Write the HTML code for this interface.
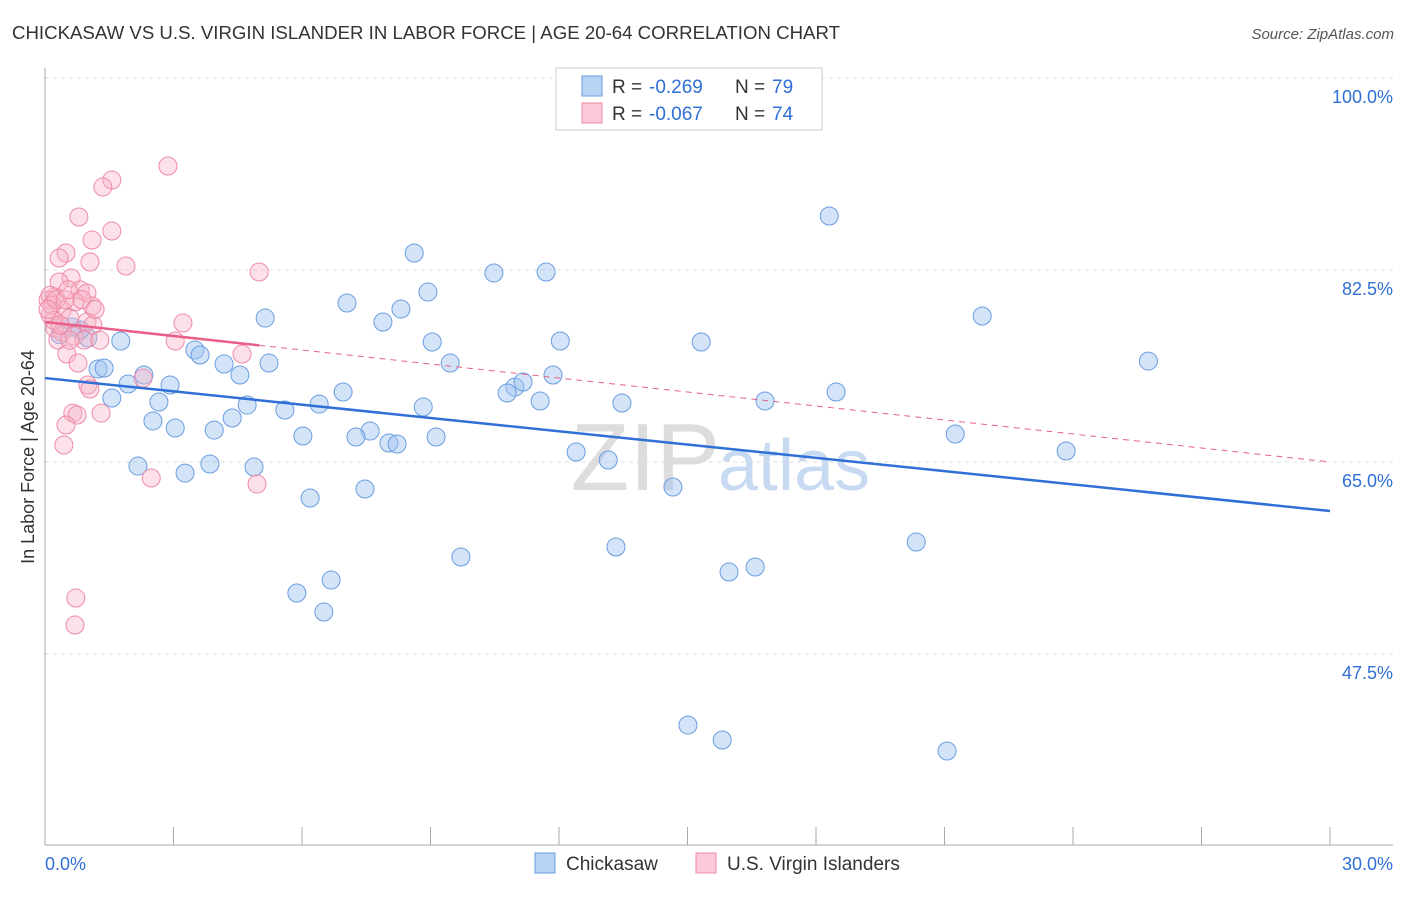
<!DOCTYPE html>
<html><head><meta charset="utf-8"><style>
body{margin:0;background:#fff;font-family:"Liberation Sans",sans-serif}
svg text{font-family:"Liberation Sans",sans-serif}
</style></head><body>
<svg id="chart" width="1406" height="892" xmlns="http://www.w3.org/2000/svg">
<text x="12" y="39" font-size="18" fill="#333" textLength="828" lengthAdjust="spacingAndGlyphs">CHICKASAW VS U.S. VIRGIN ISLANDER IN LABOR FORCE | AGE 20-64 CORRELATION CHART</text>
<text x="1394" y="39" font-size="15" fill="#555" font-style="italic" text-anchor="end">Source: ZipAtlas.com</text>
<text x="720" y="490" font-size="96" fill="#ddd" text-anchor="end" font-family="Liberation Serif">ZIP</text>
<text x="718" y="490" font-size="72" fill="#c8daf2">atlas</text>
<g id="grid"></g>
<g id="pts"></g>
<g id="trends"></g>
<text transform="translate(34,457) rotate(-90)" font-size="18" fill="#333" text-anchor="middle">In Labor Force | Age 20-64</text>
<g>
<rect x="556" y="68" width="266" height="62" fill="#fff" stroke="#ccc"/>
<rect x="582" y="76" width="20" height="20" fill="#b9d3f5" stroke="#6a9de0"/>
<rect x="582" y="103" width="20" height="20" fill="#fbc9d7" stroke="#ee8aa8"/>
<text x="612" y="93" font-size="19" fill="#333">R =</text>
<text x="649" y="93" font-size="19" fill="#2f6fd6">-0.269</text>
<text x="735" y="93" font-size="19" fill="#333">N =</text>
<text x="772" y="93" font-size="19" fill="#2f6fd6">79</text>
<text x="612" y="120" font-size="19" fill="#333">R =</text>
<text x="649" y="120" font-size="19" fill="#2f6fd6">-0.067</text>
<text x="735" y="120" font-size="19" fill="#333">N =</text>
<text x="772" y="120" font-size="19" fill="#2f6fd6">74</text>
</g>
<g>
<rect x="535" y="853" width="20" height="20" fill="#b9d3f5" stroke="#6a9de0"/>
<text x="566" y="870" font-size="19" fill="#333">Chickasaw</text>
<rect x="696" y="853" width="20" height="20" fill="#fbc9d7" stroke="#ee8aa8"/>
<text x="727" y="870" font-size="19" fill="#333">U.S. Virgin Islanders</text>
</g>
</svg>
<script>
const xTicks=[0,30];
const yTicks=[100,82.5,65,47.5];
const blueX=[18.31,8.62,10.48,11.70,8.94,7.05,8.31,5.14,7.89,21.88,1.77,1.00,0.82,9.04,12.03,15.32,3.50,3.62,4.18,5.23,9.46,25.76,1.24,1.38,2.31,4.55,11.86,1.94,2.92,6.96,10.97,11.16,10.79,18.47,1.56,2.66,4.72,6.40,5.60,8.83,11.56,13.47,16.81,4.37,2.52,3.04,3.95,7.59,7.26,6.02,8.03,8.22,9.13,21.25,12.40,13.15,23.84,2.17,3.85,4.88,3.27,14.66,7.47,6.19,9.71,13.33,20.34,15.97,16.58,6.68,5.88,6.51,15.01,15.81,21.06,0.63,0.35];
const blueY=[87.42,84.05,82.23,82.32,80.49,79.49,78.94,78.12,77.76,78.31,76.03,76.30,77.03,75.94,76.03,75.94,75.21,74.75,73.93,74.02,74.02,74.20,73.48,73.57,72.93,72.93,72.93,72.11,72.02,71.38,71.83,72.29,71.29,71.38,70.83,70.47,70.19,70.28,69.74,70.01,70.56,70.38,70.56,69.01,68.74,68.10,67.91,67.82,67.28,67.37,66.73,66.64,67.28,67.55,65.91,65.18,66.00,64.63,64.82,64.54,63.99,62.72,62.54,61.72,56.34,57.25,57.71,54.97,55.43,54.24,53.06,51.33,41.02,39.66,38.66,77.3,76.6];
const pinkX=[2.87,1.56,1.35,0.79,1.56,1.10,0.49,0.33,1.05,1.89,5.00,0.61,0.33,0.82,0.98,0.23,0.07,0.70,1.10,0.40,0.12,0.58,0.98,1.12,3.22,0.23,0.40,0.68,0.30,3.04,0.91,4.60,0.51,0.77,2.29,1.00,1.05,0.65,0.75,1.31,0.49,0.44,2.48,4.95,0.72,0.70,0.12,0.16,0.21,0.26,0.07,0.35,0.47,0.54,0.86,1.17,0.58,1.28];
const pinkY=[91.98,90.70,90.06,87.33,86.05,85.23,84.05,83.59,83.23,82.86,82.32,81.77,81.41,80.68,80.40,80.04,79.77,79.58,79.22,78.85,78.40,78.12,77.76,77.49,77.67,77.21,76.85,76.48,76.12,76.03,76.12,74.84,74.84,74.02,72.65,72.02,71.65,69.46,69.28,69.46,68.37,66.55,63.54,62.99,52.60,50.14,80.2,79.3,77.9,79.8,78.9,77.5,79.8,80.7,79.8,78.9,76.1,76.1];
const blueTrend=[72.65,60.53];
const pinkTrend=[77.76,65.0];
const pinkSolidEnd=5;
const NS="http://www.w3.org/2000/svg";
const sx=v=>45+v/30*1285;
const sy=v=>78+(100-v)/17.5*192;
function mk(tag,attrs,parent){const e=document.createElementNS(NS,tag);for(const k in attrs)e.setAttribute(k,attrs[k]);parent.appendChild(e);return e;}
const grid=document.getElementById('grid');
yTicks.forEach(t=>{
 const l=mk('line',{x1:45,x2:1393,y1:sy(t),y2:sy(t),stroke:'#ddd','stroke-dasharray':'4,4'},grid);
 
 
 const tx=mk('text',{x:1393,y:sy(t)+25,'font-size':18,fill:'#2f6fd6','text-anchor':'end'},grid);
 tx.textContent=t.toFixed(1)+'%';
 
 
});
const ax=mk('line',{x1:45,x2:45,y1:68,y2:845,stroke:'#aaa'},grid);


const bx=mk('line',{x1:45,x2:1393,y1:845,y2:845,stroke:'#aaa'},grid);


for(let i=0;i<=10;i++){const x=sx(i*3);const tk=mk('line',{x1:x,x2:x,y1:827,y2:845,stroke:'#aaa'},grid);
 
 }
xTicks.forEach((t,i)=>{const tx=mk('text',{x:i?1393:45,y:870,'font-size':18,fill:'#2f6fd6','text-anchor':i?'end':'start'},grid);
 tx.textContent=t.toFixed(1)+'%';
 
 });
const pts=document.getElementById('pts');
blueX.forEach((x,i)=>{const c=mk('circle',{cx:sx(x),cy:sy(blueY[i]),r:9,fill:'rgba(160,196,240,0.45)',stroke:'#6a9de0','stroke-width':1},pts);
 
 });
pinkX.forEach((x,i)=>{const c=mk('circle',{cx:sx(x),cy:sy(pinkY[i]),r:9,fill:'rgba(248,180,200,0.4)',stroke:'#ee8aa8','stroke-width':1},pts);
 
 });
const tr=document.getElementById('trends');
const bl=mk('line',{x1:sx(0),y1:sy(blueTrend[0]),x2:sx(30),y2:sy(blueTrend[1]),stroke:'#2f6fd6','stroke-width':2.5},tr);


const pe=pinkTrend[0]+(pinkTrend[1]-pinkTrend[0])*pinkSolidEnd/30;
const ps=mk('line',{x1:sx(0),y1:sy(pinkTrend[0]),x2:sx(pinkSolidEnd),y2:sy(pe),stroke:'#e8608a','stroke-width':2.5},tr);


const pd=mk('line',{x1:sx(pinkSolidEnd),y1:sy(pe),x2:sx(30),y2:sy(pinkTrend[1]),stroke:'#e8608a','stroke-width':1,'stroke-dasharray':'6,5'},tr);


</script>
</body></html>
